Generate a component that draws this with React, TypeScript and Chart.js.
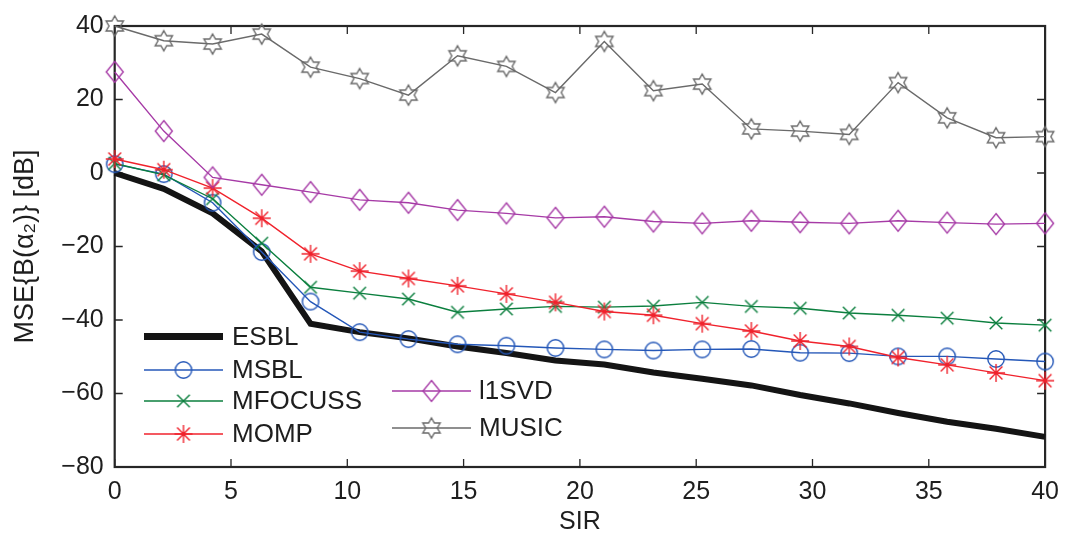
import React, { useEffect, useRef } from 'react';
import { Chart, registerables } from 'chart.js';

Chart.register(...registerables);

// ---- data ----
const sir = [0, 2.11, 4.21, 6.32, 8.42, 10.53, 12.63, 14.74, 16.84, 18.95, 21.05, 23.16, 25.26, 27.37, 29.47, 31.58, 33.68, 35.79, 37.89, 40];
const esbl = [0, -4.3, -11.0, -21.3, -41.0, -43.3, -45.0, -47.2, -49.0, -51.0, -52.1, -54.3, -56.0, -57.8, -60.4, -62.7, -65.3, -67.7, -69.6, -71.8];
const msbl = [2.4, -0.3, -8.1, -21.5, -35.0, -43.3, -45.2, -46.6, -47.0, -47.6, -48.0, -48.3, -48.0, -47.9, -48.9, -49.0, -49.9, -49.9, -50.6, -51.3];
const mfocuss = [2.6, -0.5, -7.0, -19.1, -31.1, -32.7, -34.3, -37.9, -37.0, -36.3, -36.5, -36.2, -35.2, -36.3, -36.8, -38.1, -38.7, -39.5, -40.8, -41.4];
const momp = [3.8, 0.9, -4.1, -12.3, -22.0, -26.7, -28.7, -30.7, -32.9, -35.2, -37.7, -38.7, -41.0, -43.0, -45.7, -47.2, -50.2, -52.2, -54.4, -56.5];
const l1svd = [27.5, 11.4, -1.2, -3.2, -5.2, -7.3, -8.1, -10.1, -11.0, -12.2, -11.9, -13.2, -13.7, -13.0, -13.4, -13.7, -13.0, -13.5, -13.9, -13.7];
const music = [40.0, 36.0, 35.1, 37.8, 28.8, 25.7, 21.2, 31.9, 29.0, 21.9, 35.8, 22.4, 24.2, 12.0, 11.4, 10.5, 24.6, 15.0, 9.6, 9.9];

const seriesNames = ['ESBL', 'MSBL', 'MFOCUSS', 'MOMP', 'l1SVD', 'MUSIC'];
const xTickValues = [0, 5, 10, 15, 20, 25, 30, 35, 40];
const yTickValues = [-80, -60, -40, -20, 0, 20, 40];
const xTitle = 'SIR';
const yTitle = 'MSE{B(α₂)} [dB]';

// ---- styles ----
const FONT = '"Liberation Sans", Arial, Helvetica, sans-serif';
const AXIS_COLOR = '#262626';
const TEXT_COLOR = '#1e1e1e';
const COLORS = ['#141414', '#2457b8', '#0b7f3e', '#f0222c', '#a63aa6', '#6a6a6a'];

type MarkerKind = 'none' | 'circle' | 'x' | 'asterisk' | 'diamond' | 'hexagram';
const MARKERS: MarkerKind[] = ['none', 'circle', 'x', 'asterisk', 'diamond', 'hexagram'];

function makeMarker(kind: MarkerKind, color: string): HTMLCanvasElement | string {
  if (kind === 'none') return 'circle';
  const size = 26;
  const c = size / 2;
  const cv = document.createElement('canvas');
  cv.width = size;
  cv.height = size;
  const ctx = cv.getContext('2d')!;
  ctx.strokeStyle = color;
  ctx.lineWidth = 1.4;
  ctx.lineJoin = 'miter';
  ctx.beginPath();
  if (kind === 'circle') {
    ctx.arc(c, c, 8.2, 0, Math.PI * 2);
  } else if (kind === 'x') {
    const h = 6.3;
    ctx.moveTo(c - h, c - h); ctx.lineTo(c + h, c + h);
    ctx.moveTo(c + h, c - h); ctx.lineTo(c - h, c + h);
  } else if (kind === 'asterisk') {
    const h = 9;
    const d = 6.4;
    ctx.moveTo(c, c - h); ctx.lineTo(c, c + h);
    ctx.moveTo(c - h, c); ctx.lineTo(c + h, c);
    ctx.moveTo(c - d, c - d); ctx.lineTo(c + d, c + d);
    ctx.moveTo(c + d, c - d); ctx.lineTo(c - d, c + d);
  } else if (kind === 'diamond') {
    const hw = 8.5, hh = 10.5;
    ctx.moveTo(c, c - hh); ctx.lineTo(c + hw, c); ctx.lineTo(c, c + hh); ctx.lineTo(c - hw, c); ctx.closePath();
  } else if (kind === 'hexagram') {
    const R = 10, r = R / Math.sqrt(3);
    for (let k = 0; k < 12; k++) {
      const ang = -Math.PI / 2 + (k * Math.PI) / 6;
      const rad = k % 2 === 0 ? R : r;
      const px = c + rad * Math.cos(ang);
      const py = c + rad * Math.sin(ang);
      if (k === 0) ctx.moveTo(px, py); else ctx.lineTo(px, py);
    }
    ctx.closePath();
  }
  ctx.stroke();
  return cv;
}

const minus = (v: number) => String(v).replace('-', '\u2212');

export default function App() {
  const ref = useRef<HTMLCanvasElement | null>(null);

  useEffect(() => {
    document.body.style.margin = '0';
    const canvas = ref.current;
    if (!canvas) return;
    const seriesData = [esbl, msbl, mfocuss, momp, l1svd, music];
    const markerImgs = MARKERS.map((m, i) => makeMarker(m, COLORS[i]));

    const datasets = seriesData.map((vals, i) => ({
      label: seriesNames[i],
      data: sir.map((x, j) => ({ x, y: vals[j] })),
      borderColor: COLORS[i],
      backgroundColor: 'transparent',
      borderWidth: i === 0 ? 6 : 1.4,
      pointStyle: markerImgs[i] as any,
      pointRadius: i === 0 ? 0 : 10,
      pointHoverRadius: i === 0 ? 0 : 10,
      tension: 0,
      clip: false as any,
      order: 6 - i,
    }));

    const axesBox = {
      id: 'axesBox',
      beforeDatasetsDraw(chart: any) {
        const { ctx, chartArea: a, scales } = chart;
        ctx.save();
        ctx.strokeStyle = AXIS_COLOR;
        ctx.lineWidth = 1.3;
        const L = 8;
        ctx.beginPath();
        xTickValues.forEach((v) => {
          const px = scales.x.getPixelForValue(v);
          ctx.moveTo(px, a.bottom); ctx.lineTo(px, a.bottom - L);
          ctx.moveTo(px, a.top); ctx.lineTo(px, a.top + L);
        });
        yTickValues.forEach((v) => {
          const py = scales.y.getPixelForValue(v);
          ctx.moveTo(a.left, py); ctx.lineTo(a.left + L, py);
          ctx.moveTo(a.right, py); ctx.lineTo(a.right - L, py);
        });
        ctx.stroke();
        ctx.lineWidth = 2.2;
        ctx.strokeRect(a.left, a.top, a.right - a.left, a.bottom - a.top);
        ctx.restore();
      },
    };

    const legendLayout = [
      { idx: 0, x1: 144, x2: 223, tx: 232, y: 336.5 },
      { idx: 1, x1: 144, x2: 223, tx: 232, y: 370 },
      { idx: 2, x1: 144, x2: 223, tx: 232, y: 401 },
      { idx: 3, x1: 144, x2: 223, tx: 232, y: 434 },
      { idx: 4, x1: 392, x2: 471, tx: 479, y: 391 },
      { idx: 5, x1: 392, x2: 471, tx: 479, y: 428 },
    ];

    const legendPlugin = {
      id: 'matlabLegend',
      afterDraw(chart: any) {
        const { ctx } = chart;
        ctx.save();
        legendLayout.forEach((e) => {
          const ds = chart.data.datasets[e.idx];
          ctx.strokeStyle = ds.borderColor;
          ctx.lineWidth = e.idx === 0 ? 7 : ds.borderWidth;
          ctx.beginPath();
          ctx.moveTo(e.x1, e.y);
          ctx.lineTo(e.x2, e.y);
          ctx.stroke();
          const img = markerImgs[e.idx];
          if (typeof img !== 'string') {
            const mx = (e.x1 + e.x2) / 2;
            ctx.drawImage(img, mx - img.width / 2, e.y - img.height / 2);
          }
          ctx.fillStyle = TEXT_COLOR;
          ctx.font = `26px ${FONT}`;
          ctx.textAlign = 'left';
          ctx.textBaseline = 'middle';
          ctx.fillText(ds.label, e.tx, e.y + 1);
        });
        ctx.restore();
      },
    };

    const chart = new Chart(canvas, {
      type: 'line',
      data: { datasets: datasets as any },
      options: {
        responsive: false,
        animation: false,
        devicePixelRatio: 1,
        layout: { padding: { top: 20, right: 23.3, left: 0, bottom: 0 } },
        plugins: { legend: { display: false }, tooltip: { enabled: false } },
        scales: {
          x: {
            type: 'linear',
            min: 0,
            max: 40,
            grid: { display: false, drawTicks: false },
            border: { display: false },
            afterBuildTicks: (s: any) => { s.ticks = xTickValues.map((v) => ({ value: v })); },
            afterFit: (s: any) => { s.height = 70; },
            ticks: {
              padding: 10,
              color: TEXT_COLOR,
              font: { family: FONT, size: 25 },
              maxRotation: 0,
              callback: (v: any) => minus(Number(v)),
            },
            title: {
              display: true,
              text: xTitle,
              color: TEXT_COLOR,
              font: { family: FONT, size: 25 },
              padding: { top: 0, bottom: 0 },
            },
          },
          y: {
            type: 'linear',
            min: -80,
            max: 40,
            grid: { display: false, drawTicks: false },
            border: { display: false },
            afterBuildTicks: (s: any) => { s.ticks = yTickValues.map((v) => ({ value: v })); },
            afterFit: (s: any) => { s.width = 114.7; },
            ticks: {
              padding: 11,
              color: TEXT_COLOR,
              font: { family: FONT, size: 25 },
              callback: (v: any) => minus(Number(v)),
            },
            title: {
              display: true,
              text: yTitle,
              color: TEXT_COLOR,
              font: { family: FONT, size: 27 },
              padding: { top: 9, bottom: 0 },
            },
          },
        },
      },
      plugins: [axesBox, legendPlugin],
    });

    return () => chart.destroy();
  }, []);

  return (
    <div style={{ position: 'absolute', left: 0, top: 0, width: 1069, height: 537, background: '#fff' }}>
      <canvas ref={ref} width={1069} height={537} style={{ display: 'block' }} />
    </div>
  );
}
